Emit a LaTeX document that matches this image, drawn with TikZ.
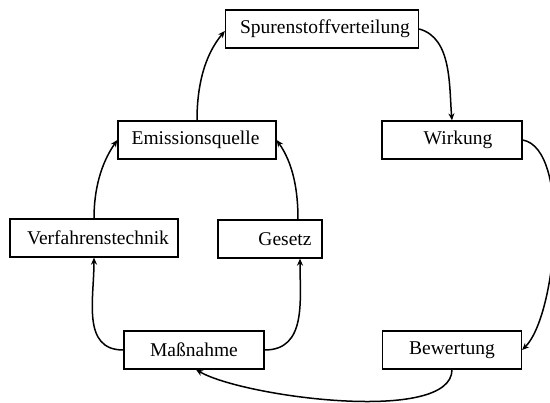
\documentclass[tikz,border=0pt]{standalone}
\usepackage{fontspec}
\setmainfont{Liberation Serif}
\usetikzlibrary{arrows.meta}
\begin{document}
\begin{tikzpicture}[x=1pt,y=-1pt,
  box/.style={draw,line width=1.3pt,inner sep=0pt,minimum height=38pt,font=\fontsize{19.5}{22}\selectfont},
  flow/.style={line width=1.5pt,-{Stealth[length=7pt,width=6pt]}}]
\useasboundingbox (0,0) rectangle (550,403);
% boxes of the cycle
\node[box,minimum width=193pt] (spu) at (322,29) {\hspace*{6pt}Spurenstoffverteilung};
\node[box,minimum width=158pt] (emi) at (197,140) {Emissionsquelle\hspace*{3pt}};
\node[box,minimum width=140pt] (wir) at (452,140) {\hspace*{12pt}Wirkung};
\node[box,minimum width=168pt] (ver) at (94,238) {\hspace*{8pt}Verfahrenstechnik};
\node[box,minimum width=104pt] (ges) at (270,239) {\hspace*{30pt}Gesetz};
\node[box,minimum width=140pt] (mas) at (194,350) {Maßnahme};
\node[box,minimum width=139pt] (bew) at (452,350) {Bewertung};
% anchor points off the box centres
\coordinate (gesS) at ([xshift=30pt]ges.south);
\coordinate (gesN) at ([xshift=28pt]ges.north);
\coordinate (spuW) at ([yshift=-2pt]spu.west);
\coordinate (masS) at ([xshift=2pt]mas.south);
% connectors
\draw[flow] (emi.north) to[out=90,in=230,looseness=0.9] (spuW);
\draw[flow] (spu.east) to[out=-15,in=95,looseness=0.9] (wir.north);
\draw[flow] (wir.east) to[out=-10,in=45,looseness=0.6] (bew.east);
\draw[flow] (bew.south) to[out=-90,in=-30,looseness=0.55] (masS);
\draw[flow] (mas.west) to[out=180,in=-90,looseness=1.1] (ver.north |- ver.south);
\draw[flow] (mas.east) to[out=0,in=-90,looseness=1.1] (gesS);
\draw[flow] (ver.north) to[out=90,in=235,looseness=0.9] (emi.west);
\draw[flow] (gesN) to[out=90,in=-55,looseness=0.9] (emi.east);
\end{tikzpicture}
\end{document}
